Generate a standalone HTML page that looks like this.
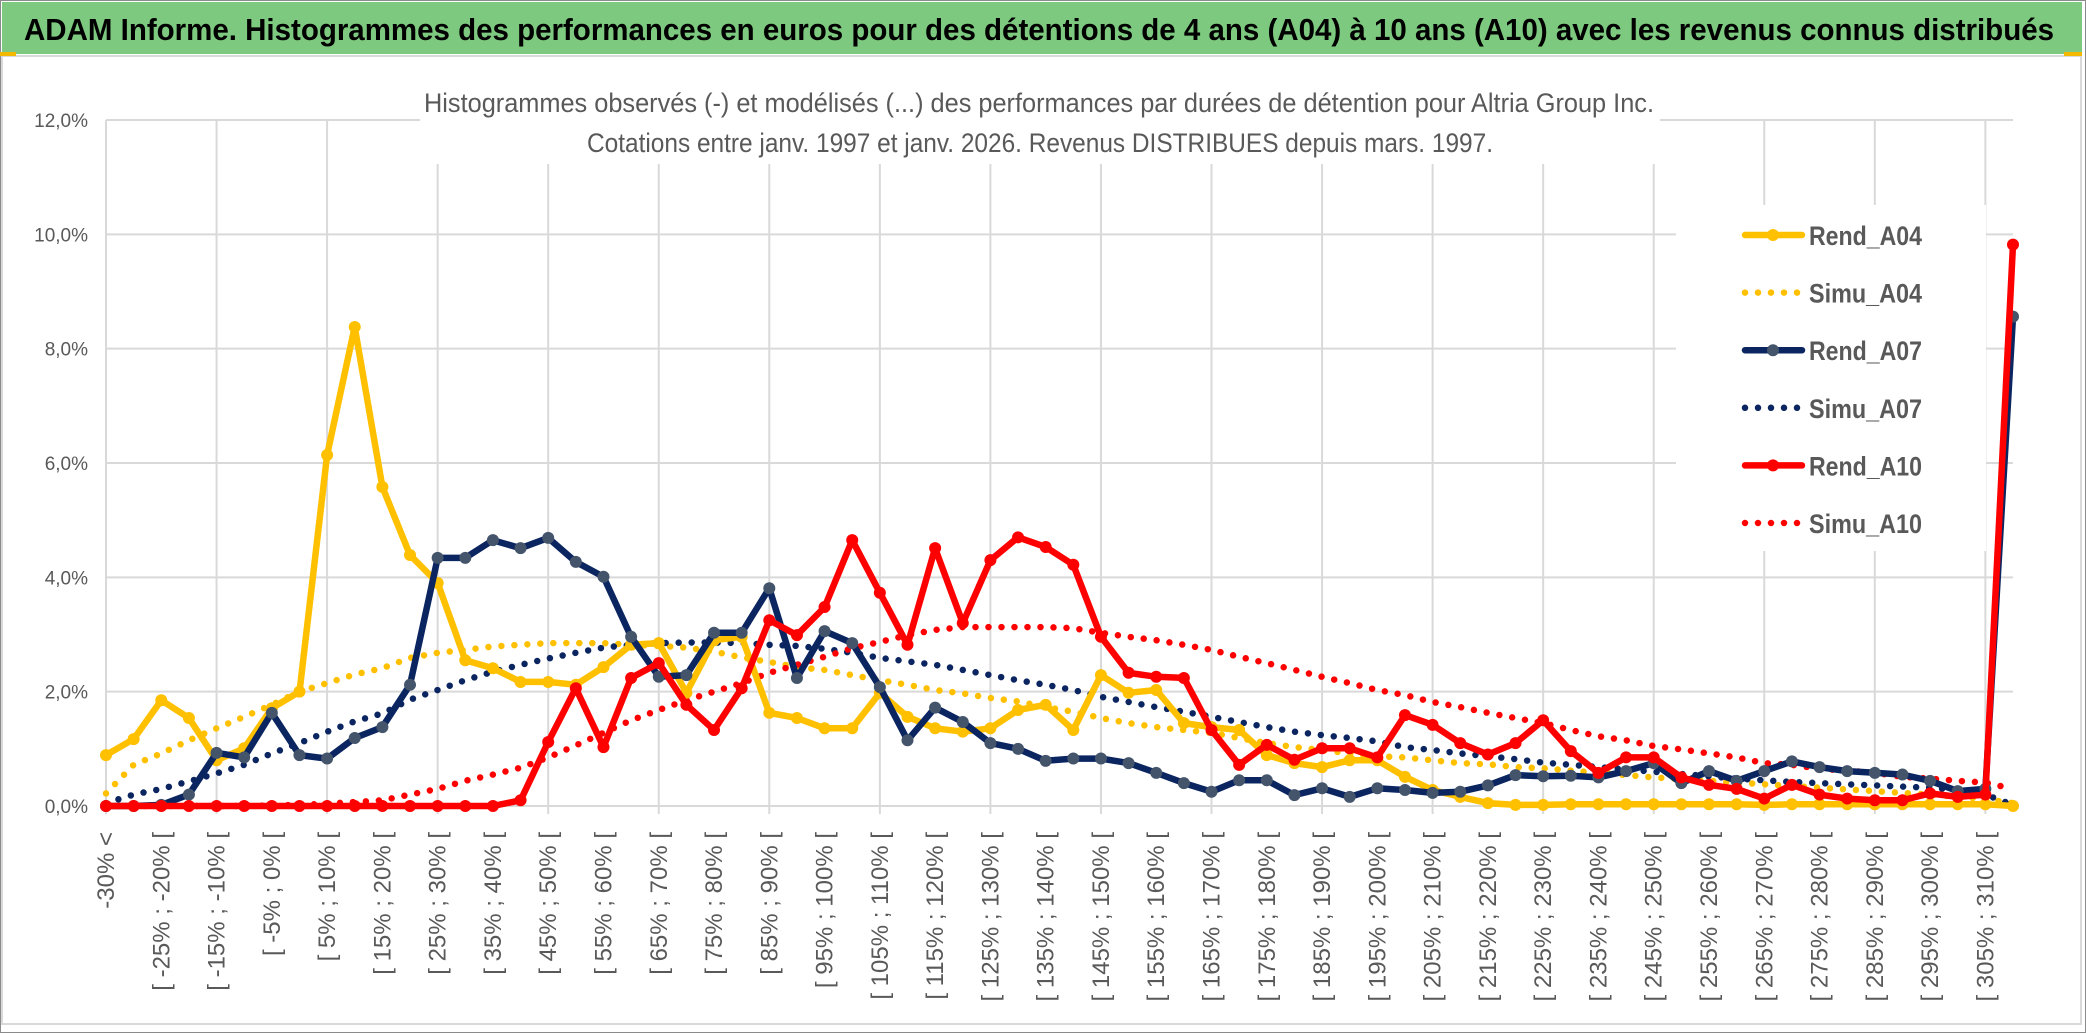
<!DOCTYPE html>
<html><head><meta charset="utf-8"><style>
html,body{margin:0;padding:0;background:#fff;}
svg{display:block;font-family:"Liberation Sans",sans-serif;}
</style></head><body>
<svg id="chart" width="2086" height="1033" viewBox="0 0 2086 1033" xmlns="http://www.w3.org/2000/svg">
<rect x="0.5" y="0.5" width="2085" height="1032" fill="#fff" stroke="#8a8a8a"/>
<rect x="2" y="2" width="2080" height="52" fill="#7dc97f"/>
<text x="24" y="40" font-size="31" font-weight="bold" fill="#000" textLength="2030" lengthAdjust="spacingAndGlyphs">ADAM Informe. Histogrammes des performances en euros pour des détentions de 4 ans (A04) à 10 ans (A10) avec les revenus connus distribués</text>
<rect x="2" y="56" width="2079" height="968" fill="#fff" stroke="#d9d9d9" stroke-width="2"/>
<rect x="0" y="52" width="16" height="4" fill="#f2b900"/>
<rect x="2064" y="52" width="18" height="4" fill="#f2b900"/>
<g id="grid"></g>
<g id="yaxis"></g>
<g id="xaxis"></g>
<rect x="420" y="60" width="1240" height="104" fill="#fff"/>
<text x="1039" y="112" font-size="27" fill="#595959" text-anchor="middle" textLength="1230" lengthAdjust="spacingAndGlyphs">Histogrammes observés (-) et modélisés (...) des performances par durées de détention pour Altria Group Inc.</text>
<text x="1040" y="152" font-size="27" fill="#595959" text-anchor="middle" textLength="906" lengthAdjust="spacingAndGlyphs">Cotations entre janv. 1997 et janv. 2026. Revenus DISTRIBUES depuis mars. 1997.</text>
<g id="series"></g>
<g id="legend"></g>
</svg>
<script>
const categories = (function(){const c=["-30% <"];for(let k=1;k<=68;k++){const lo=-30+5*(k-1);c.push("[ "+lo+"% ; "+(lo+5)+"% [");}c.push("> 310%");return c;})();
const yTicks = [0,2,4,6,8,10,12];
const yTickLabels = ["0,0%","2,0%","4,0%","6,0%","8,0%","10,0%","12,0%"];
const rendA04 = [0.89,1.17,1.85,1.54,0.8,1.01,1.71,2.0,6.14,8.38,5.58,4.39,3.9,2.55,2.41,2.17,2.17,2.12,
2.43,2.82,2.85,1.98,2.9,2.96,1.63,1.54,1.36,1.36,1.98,1.56,1.36,1.3,1.36,1.68,1.77,1.33,
2.29,1.98,2.03,1.45,1.38,1.33,0.89,0.75,0.68,0.8,0.8,0.51,0.28,0.16,0.05,0.02,0.02,
0.03,0.03,0.03,0.03,0.03,0.03,0.03,0.02,0.03,0.03,0.03,0.03,0.03,0.03,0.03,0.03,0.0];
const simuA04 = [0.22,0.72,0.92,1.15,1.36,1.56,1.77,2.0,2.15,2.3,2.41,2.59,2.68,2.73,2.79,2.82,2.85,2.85,
2.85,2.82,2.8,2.77,2.7,2.6,2.52,2.43,2.38,2.29,2.2,2.12,2.03,1.97,1.89,1.83,1.73,1.65,
1.54,1.45,1.38,1.33,1.28,1.19,1.1,1.03,0.98,0.92,0.87,0.85,0.8,0.75,0.73,0.68,0.66,
0.62,0.58,0.54,0.5,0.47,0.44,0.41,0.38,0.35,0.32,0.29,0.26,0.23,0.2,0.16,0.12,0.05];
const rendA07 = [0.0,0.0,0.02,0.2,0.93,0.85,1.63,0.89,0.83,1.19,1.38,2.12,4.34,4.34,4.65,4.51,4.69,4.27,
4.01,2.96,2.26,2.29,3.03,3.03,3.81,2.24,3.06,2.85,2.08,1.15,1.72,1.47,1.1,1.0,0.79,0.83,
0.83,0.75,0.58,0.4,0.25,0.45,0.45,0.19,0.31,0.16,0.31,0.28,0.23,0.25,0.36,0.54,0.52,
0.53,0.5,0.61,0.75,0.4,0.61,0.44,0.61,0.78,0.68,0.61,0.58,0.55,0.44,0.26,0.3,8.56];
const simuA07 = [0.05,0.2,0.3,0.43,0.57,0.72,0.92,1.1,1.3,1.48,1.62,1.86,2.03,2.2,2.35,2.47,2.58,2.68,
2.77,2.82,2.85,2.86,2.86,2.85,2.82,2.8,2.75,2.68,2.59,2.53,2.47,2.38,2.29,2.2,2.12,2.03,
1.91,1.82,1.73,1.65,1.56,1.47,1.38,1.3,1.24,1.19,1.13,1.03,0.98,0.92,0.87,0.82,0.76,
0.72,0.68,0.64,0.6,0.56,0.52,0.48,0.45,0.42,0.4,0.38,0.36,0.34,0.32,0.28,0.2,0.02];
const rendA10 = [0,0,0,0,0,0,0,0,0,0,0,0,0,0,0,0.1,1.12,2.06,
1.03,2.24,2.5,1.77,1.33,2.06,3.25,2.99,3.48,4.65,3.73,2.82,4.51,3.2,4.3,4.7,4.53,4.22,
2.96,2.33,2.26,2.24,1.33,0.72,1.07,0.81,1.01,1.01,0.85,1.59,1.42,1.1,0.9,1.1,1.5,
0.96,0.58,0.85,0.85,0.5,0.37,0.3,0.13,0.37,0.2,0.13,0.1,0.1,0.22,0.16,0.2,9.82];
const simuA10 = [0,0,0,0,0,0,0.01,0.02,0.04,0.07,0.1,0.2,0.3,0.44,0.55,0.67,0.85,1.06,
1.28,1.5,1.68,1.85,2.0,2.15,2.33,2.47,2.61,2.76,2.87,2.99,3.08,3.13,3.13,3.13,3.13,3.11,
3.03,2.96,2.9,2.82,2.73,2.61,2.5,2.38,2.26,2.15,2.03,1.94,1.82,1.73,1.63,1.54,1.45,
1.33,1.22,1.15,1.05,0.99,0.92,0.85,0.75,0.72,0.65,0.62,0.58,0.51,0.48,0.44,0.41,0.3];

const NS="http://www.w3.org/2000/svg";
const X0=106, X1=2013, Y0=806, Y12=120;
function xs(i){return X0+i*(X1-X0)/(categories.length-1);}
function ys(v){return Y0-(v/12)*(Y0-Y12);}
function mk(tag,attrs,parent){const e=document.createElementNS(NS,tag);for(const k in attrs)e.setAttribute(k,attrs[k]);parent.appendChild(e);return e;}

const grid=document.getElementById('grid');
yTicks.forEach(function(t){
  const l=mk('line',{x1:X0,x2:X1,y1:ys(t),y2:ys(t),stroke:'#d9d9d9','stroke-width':2},grid);
  
  
});
for(let i=0;i<categories.length;i+=4){
  const l=mk('line',{x1:xs(i),x2:xs(i),y1:Y12,y2:Y0+8,stroke:'#d9d9d9','stroke-width':2},grid);
  
  
}
const yaxis=document.getElementById('yaxis');
yTicks.forEach(function(t,k){
  const tx=mk('text',{x:88,y:ys(t)+7,'font-size':19,fill:'#595959','text-anchor':'end'},yaxis);
  tx.textContent=yTickLabels[k];
  
  
});
const xaxis=document.getElementById('xaxis');
for(let i=0;i<categories.length;i+=2){
  const x=xs(i)+8, y=832;
  const tx=mk('text',{x:x,y:y,'font-size':24,fill:'#595959','text-anchor':'end',transform:'rotate(-90 '+x+' '+y+')'},xaxis);
  tx.textContent=categories[i];
  
  
}

const seriesG=document.getElementById('series');
function pts(arr){return arr.map(function(v,i){return xs(i).toFixed(1)+','+ys(v).toFixed(1);}).join(' ');}
function dotted(arr,color,name){
  const p=mk('polyline',{points:pts(arr),fill:'none',stroke:color,'stroke-width':6.5,'stroke-linecap':'round','stroke-dasharray':'0 13'},seriesG);
  
  
}
function solid(arr,color,mcolor,name){
  const p=mk('polyline',{points:pts(arr),fill:'none',stroke:color,'stroke-width':6.5,'stroke-linejoin':'round'},seriesG);
  
  
  arr.forEach(function(v,i){
    const c=mk('circle',{cx:xs(i),cy:ys(v),r:6,fill:mcolor},seriesG);
    
    
  });
}
dotted(simuA04,'#ffc000','simu-a04-line');
dotted(simuA07,'#0b2560','simu-a07-line');
dotted(simuA10,'#ff0000','simu-a10-line');
solid(rendA04,'#ffc000','#ffc000','rend-a04-line');
solid(rendA07,'#0b2560','#44546a','rend-a07-line');
solid(rendA10,'#ff0000','#ff0000','rend-a10-line');

const lg=document.getElementById('legend');
const bg=mk('rect',{x:1676,y:205,width:310,height:346,fill:'#fff'},lg);


const legendNames=["Rend_A04","Simu_A04","Rend_A07","Simu_A07","Rend_A10","Simu_A10"];
const legendColors=["#ffc000","#ffc000","#0b2560","#0b2560","#ff0000","#ff0000"];
const legendMarkers=["#ffc000",null,"#44546a",null,"#ff0000",null];
legendNames.forEach(function(n,k){
  const y=235+k*57.6;
  const g=mk('g',{},lg);
  
  
  if(legendMarkers[k]){
    mk('line',{x1:1745,x2:1802,y1:y,y2:y,stroke:legendColors[k],'stroke-width':6.5,'stroke-linecap':'round'},g);
    mk('circle',{cx:1773,cy:y,r:6,fill:legendMarkers[k]},g);
  } else {
    mk('line',{x1:1745,x2:1802,y1:y,y2:y,stroke:legendColors[k],'stroke-width':6.5,'stroke-linecap':'round','stroke-dasharray':'0 13'},g);
  }
  const t=mk('text',{x:1809,y:y+10,'font-size':27,'font-weight':'bold',fill:'#595959',textLength:113,lengthAdjust:'spacingAndGlyphs'},g);
  t.textContent=n;
});
</script>
</body></html>
